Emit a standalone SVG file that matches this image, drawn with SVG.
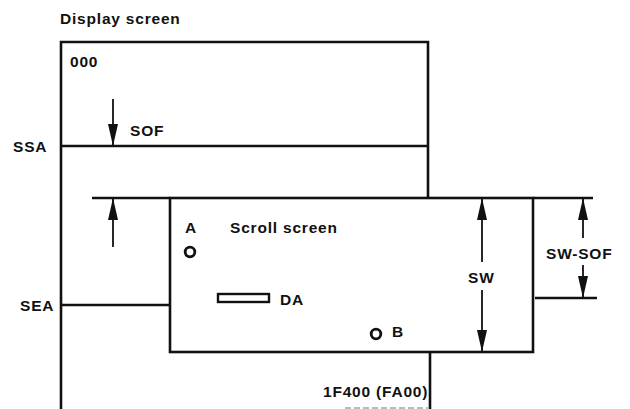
<svg xmlns="http://www.w3.org/2000/svg" width="630" height="409" viewBox="0 0 630 409">
<style>
text{font-family:"Liberation Sans",Arial,sans-serif;font-weight:bold;font-size:15.5px;letter-spacing:0.8px;fill:#111}
.frame{stroke:#111;stroke-width:2.6;fill:none}
.thin{stroke:#111;stroke-width:1.8;fill:none}
</style>
<defs>
<marker id="ah2" viewBox="0 0 22 10" refX="22" refY="5" markerWidth="22" markerHeight="10" markerUnits="userSpaceOnUse" orient="auto">
<path d="M0,0 L22,5 L0,10 Z" fill="#111"/>
</marker>
</defs>
<text x="60" y="24">Display screen</text>
<g id="display-screen">
<path class="frame" d="M61,409 V42 H428 V198"/>
<path class="frame" d="M430,352 V409"/>
<path d="M345,408 H428" stroke="#777" stroke-width="1" stroke-dasharray="6,3"/>
<text x="70" y="67">000</text>
<text x="323" y="397">1F400 (FA00)</text>
</g>
<g id="ssa">
<path class="frame" d="M61,146 H428"/>
<text x="13" y="152">SSA</text>
</g>
<g id="sea">
<path class="frame" d="M61,305 H170"/>
<text x="20" y="311">SEA</text>
</g>
<g id="scroll-screen">
<rect class="frame" x="170" y="198" width="363" height="154"/>
<text x="230" y="233">Scroll screen</text>
</g>
<g id="point-a">
<text x="185" y="233">A</text>
<circle cx="190" cy="252" r="4.8" fill="none" stroke="#111" stroke-width="2.8"/>
</g>
<g id="da">
<rect x="218" y="294" width="51" height="8" fill="none" stroke="#111" stroke-width="2.4"/>
<text x="280" y="305">DA</text>
</g>
<g id="point-b">
<circle cx="376" cy="334" r="4.8" fill="none" stroke="#111" stroke-width="2.8"/>
<text x="392" y="337">B</text>
</g>
<g id="connectors">
<path class="frame" d="M92,198 H170"/>
<path class="frame" d="M533,198 H593"/>
<path class="frame" d="M535,298 H597"/>
<path class="thin" d="M113,99 V146" marker-end="url(#ah2)"/>
<path class="thin" d="M113,247 V198" marker-end="url(#ah2)"/>
<path class="thin" d="M482,262 V198" marker-end="url(#ah2)"/>
<path class="thin" d="M482,290 V352" marker-end="url(#ah2)"/>
<path class="thin" d="M583,238 V198" marker-end="url(#ah2)"/>
<path class="thin" d="M583,265 V298" marker-end="url(#ah2)"/>
</g>
<text x="130" y="136">SOF</text>
<text x="468" y="283">SW</text>
<text x="546" y="259">SW-SOF</text>
</svg>
